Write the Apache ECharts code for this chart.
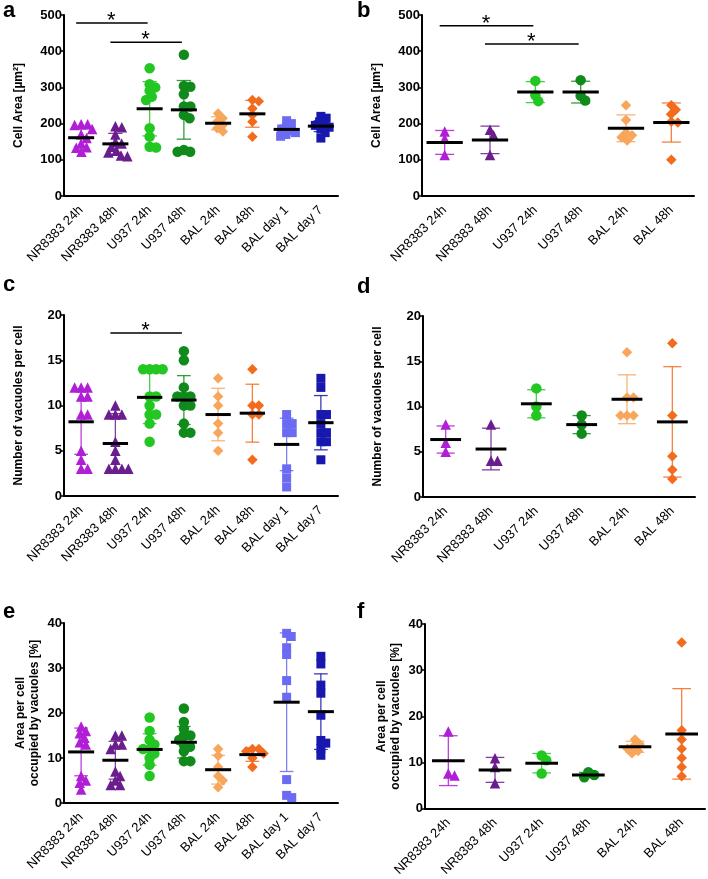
<!DOCTYPE html>
<html><head><meta charset="utf-8">
<script src="https://cdn.jsdelivr.net/npm/echarts@6/dist/echarts.min.js"></script>
<style>html,body{margin:0;padding:0;background:#fff}#c{width:708px;height:879px}</style>
</head><body><div id="c"></div>
<script>
// ---------------- DATA ----------------
const categoriesLeft = ['NR8383 24h','NR8383 48h','U937 24h','U937 48h','BAL 24h','BAL 48h','BAL day 1','BAL day 7'];
const categoriesRight = ['NR8383 24h','NR8383 48h','U937 24h','U937 48h','BAL 24h','BAL 48h'];

// panel a: Cell Area (all cells)
const aPoints = [
  [198,198,196,185,170,160,145,135,133,122],
  [193,190,170,150,145,136,125,120,112,110],
  [353,309,300,291,274,265,187,164,136,134],
  [390,304,302,281,247,247,224,215,127,122,122],
  [228,215,205,196,187,178],
  [265,262,242,224,205,164],
  [208,200,192,185,180,175,170,165],
  [220,215,205,200,195,190,185,175,160]
];
const aMean = [161,144,241,238,201,227,184,193];
const aSd   = [25,29,75,81,18,37,12,15];
const aSig  = [[0,2,478],[1,3,425]];

// panel b: Cell Area (experiment means)
const bPoints = [
  [178,158,113],
  [183,168,113],
  [318,278,262],
  [320,277,264],
  [251,210,175,168,162,153],
  [251,238,226,205,203,100]
];
const bMean = [148,155,287,287,187,203];
const bSd   = [33,38,29,30,37,54];
const bSig  = [[0,2,470],[1,3,420]];

// panel c: number of vacuoles per cell
const cPoints = [
  [12,12,12,11,11,9,9,5,4,3,3],
  [10,9,9,9,6,5,4,3,3,3,3],
  [14,14,14,14,11,11,10,9,9,8,6],
  [16,15,12,11,11,11,10,10,8,7,7],
  [13,11,10,8,7,5],
  [14,10,10,9,9,4],
  [9,8,8,7,7,3,2,1],
  [13,12,9,9,8,7,7,6,6,4]
];
const cMean = [8.2,5.8,10.9,10.6,9.0,9.15,5.7,8.1];
const cSd   = [3.6,3.3,2.9,2.7,2.9,3.2,2.9,3.0];
const cSig  = [[1,3,18]];

// panel d
const dPoints = [
  [8,6,5],
  [8,4,4],
  [12,10,9],
  [9,8,7],
  [16,11,11,9,9,9],
  [17,9,4.5,3,2]
];
const dMean = [6.35,5.3,10.3,8.0,10.8,8.3];
const dSd   = [1.5,2.3,1.55,1.0,2.7,6.1];

// panel e: area per cell occupied by vacuoles [%]
const ePoints = [
  [17,16,15.5,14.5,13.5,13,6,5,4.5,3],
  [15,15,13,13,12,7,6,5,4,4],
  [19,16,14,13,12,12,11,10,8.5,6],
  [21,18,16.5,15,15,14,13,12.5,11.5,9.3,9.3],
  [12,10.5,8,6,5,3.5],
  [12,12,11.5,11,10,8],
  [37.7,37,34.5,33,27.2,23.5,5.2,1.7,1.2],
  [32.6,30.9,26.2,24.4,19.5,13.9,13.3,12.1,10.6]
];
const eMean = [11.35,9.5,11.9,13.5,7.4,10.75,22.4,20.3];
const eSd   = [5.3,4.2,3.5,3.5,3.2,1.5,15.4,8.4];

// panel f
const fPoints = [
  [16.7,7.6,7.2],
  [10.9,9,5.5],
  [11.5,10.5,7.6],
  [7.9,7.3,6.8],
  [15,14,13.5,13,12.5,12],
  [36,17,15,13,11,9,7]
];
const fMean = [10.4,8.4,9.85,7.3,13.4,16.2];
const fSd   = [5.4,2.7,2.1,0.55,1.2,9.8];

// ---------------- STYLE ----------------
const FONT = '"Liberation Sans", Arial, sans-serif';
const COLORS  = ['#B01ED6','#6B1D8E','#22C722','#118A1C','#F8A65C','#F36B1D','#6A6AF2','#1818AE'];
const SYMBOLS = ['triangle','triangle','circle','circle','diamond','diamond','rect','rect'];

const panels = [
  {letter:'a', lx:3,   ly:0,   cats:categoriesLeft,  pts:aPoints, mean:aMean, sd:aSd, sig:aSig, ymax:500, yint:100,
   name:'Cell Area [µm²]', gap:38, grid:{left:64, top:15, width:274, height:181}, meanFrac:0.76, capFrac:0.42},
  {letter:'b', lx:357, ly:0,   cats:categoriesRight, pts:bPoints, mean:bMean, sd:bSd, sig:bSig, ymax:500, yint:100,
   name:'Cell Area [µm²]', gap:38, grid:{left:422, top:15, width:272, height:181}, meanFrac:0.8, capFrac:0.42},
  {letter:'c', lx:3,   ly:274, cats:categoriesLeft,  pts:cPoints, mean:cMean, sd:cSd, sig:cSig, ymax:20, yint:5,
   name:'Number of vacuoles per cell', gap:38, grid:{left:64, top:315, width:274, height:181}, meanFrac:0.74, capFrac:0.4},
  {letter:'d', lx:357, ly:276, cats:categoriesRight, pts:dPoints, mean:dMean, sd:dSd, sig:[], ymax:20, yint:5,
   name:'Number of vacuoles per cell', gap:38, grid:{left:423, top:316, width:272, height:181}, meanFrac:0.68, capFrac:0.4},
  {letter:'e', lx:3,   ly:601, cats:categoriesLeft,  pts:ePoints, mean:eMean, sd:eSd, sig:[], ymax:40, yint:10,
   name:'Area per cell\noccupied by vacuoles [%]', gap:22, grid:{left:64, top:623, width:274, height:180}, meanFrac:0.76, capFrac:0.4},
  {letter:'f', lx:357, ly:601, cats:categoriesRight, pts:fPoints, mean:fMean, sd:fSd, sig:[], ymax:40, yint:10,
   name:'Area per cell\noccupied by vacuoles [%]', gap:22, grid:{left:425, top:624, width:280, height:185}, meanFrac:0.7, capFrac:0.4}
];

function swarmOffsets(vals, pxPerUnit, D){
  const order = vals.map((v,i)=>i).sort((a,b)=>vals[b]-vals[a]);
  const placed = []; const off = new Array(vals.length).fill(0);
  for (const i of order){
    const y = vals[i]*pxPerUnit;
    const ints = [];
    for (const p of placed){
      const dy = Math.abs(p.y - y);
      if (dy < D){ const w = Math.sqrt(D*D - dy*dy); ints.push([p.x - w, p.x + w]); }
    }
    const cands = [0]; ints.forEach(t=>{cands.push(t[0], t[1]);});
    cands.sort((a,b)=>Math.abs(a)-Math.abs(b) || b - a);
    let x = 0;
    for (const c of cands){
      if (ints.every(t=> c <= t[0]+1e-6 || c >= t[1]-1e-6)) { x = c; break; }
    }
    placed.push({x, y}); off[i] = x;
  }
  return off;
}

const grids=[], xAxes=[], yAxes=[], series=[], graphics=[];
panels.forEach((p, pi)=>{
  grids.push(Object.assign({containLabel:false}, p.grid));
  xAxes.push({type:'category', gridIndex:pi, data:p.cats, boundaryGap:true,
    axisLine:{lineStyle:{color:'#000', width:2}},
    axisTick:{alignWithLabel:true, length:5, lineStyle:{color:'#000', width:1.5}},
    axisLabel:{rotate:45, interval:0, color:'#000', fontSize:13, fontFamily:FONT, margin:12},
    splitLine:{show:false}});
  yAxes.push({type:'value', gridIndex:pi, min:0, max:p.ymax, interval:p.yint,
    splitLine:{show:false},
    axisLine:{show:true, lineStyle:{color:'#000', width:2}},
    axisTick:{show:true, length:4, lineStyle:{color:'#000', width:1.5}},
    axisLabel:{color:'#000', fontSize:13, fontWeight:'bold', fontFamily:FONT, margin:2},
    name:p.name, nameLocation:'middle', nameGap:p.gap, nameRotate:90,
    nameTextStyle:{color:'#000', fontSize:12, fontWeight:'bold', fontFamily:FONT, lineHeight:14}});

  // whiskers (mean ± SD)
  series.push({type:'custom', xAxisIndex:pi, yAxisIndex:pi, z:2, silent:true,
    data:p.mean.map((m,i)=>[i,m,p.sd[i]]), encode:{x:0, y:1},
    renderItem:(params, api)=>{
      const i=api.value(0), m=api.value(1), s=api.value(2);
      const c=api.coord([i,m]);
      const top=api.coord([i,m+s])[1], bot=api.coord([i,Math.max(0,m-s)])[1];
      const bw=api.size([1,0])[0], hw=bw*p.capFrac/2;
      const st={stroke:COLORS[i], lineWidth:1.3, opacity:0.85};
      return {type:'group', children:[
        {type:'line', shape:{x1:c[0],y1:top,x2:c[0],y2:bot}, style:st},
        {type:'line', shape:{x1:c[0]-hw,y1:top,x2:c[0]+hw,y2:top}, style:st},
        {type:'line', shape:{x1:c[0]-hw,y1:bot,x2:c[0]+hw,y2:bot}, style:st}
      ]};
    }});

  // points
  const pxPerUnit = p.grid.height / p.ymax;
  p.pts.forEach((vals, ci)=>{
    const size = SYMBOLS[ci]==='rect' ? 9 : 10.5;
    const offs = swarmOffsets(vals, pxPerUnit, size*0.62);
    series.push({type:'scatter', xAxisIndex:pi, yAxisIndex:pi, z:3, silent:true,
      symbol:SYMBOLS[ci], symbolSize:size, itemStyle:{color:COLORS[ci], opacity:1},
      data:vals.map((v,k)=>({value:[ci,v], symbolOffset:[offs[k],0]}))});
  });

  // mean lines
  series.push({type:'custom', xAxisIndex:pi, yAxisIndex:pi, z:4, silent:true,
    data:p.mean.map((m,i)=>[i,m]), encode:{x:0, y:1},
    renderItem:(params, api)=>{
      const c=api.coord([api.value(0), api.value(1)]);
      const hw=api.size([1,0])[0]*p.meanFrac/2;
      return {type:'line', shape:{x1:c[0]-hw,y1:c[1],x2:c[0]+hw,y2:c[1]}, style:{stroke:'#000', lineWidth:3}};
    }});

  // significance bars
  if (p.sig.length){
    series.push({type:'custom', xAxisIndex:pi, yAxisIndex:pi, z:4, silent:true,
      data:p.sig, encode:{x:[0,1], y:2},
      renderItem:(params, api)=>{
        const p0=api.coord([api.value(0), api.value(2)]);
        const p1=api.coord([api.value(1), api.value(2)]);
        const mx=(p0[0]+p1[0])/2;
        return {type:'group', children:[
          {type:'line', shape:{x1:p0[0]-5,y1:p0[1],x2:p1[0]-2,y2:p1[1]}, style:{stroke:'#000', lineWidth:1.5}},
          {type:'text', style:{text:'*', x:mx-4, y:p0[1]-2, fill:'#000', font:'22px '+FONT, align:'center', verticalAlign:'middle'}}
        ]};
      }});
  }

  graphics.push({type:'text', left:p.lx, top:p.ly, style:{text:p.letter, fill:'#000', font:'bold 22px '+FONT}});
});

const chart = echarts.init(document.getElementById('c'), null, {renderer:'canvas'});
chart.setOption({
  animation:false,
  backgroundColor:'#fff',
  grid:grids, xAxis:xAxes, yAxis:yAxes, series:series, graphic:graphics
});
</script>
</body></html>
